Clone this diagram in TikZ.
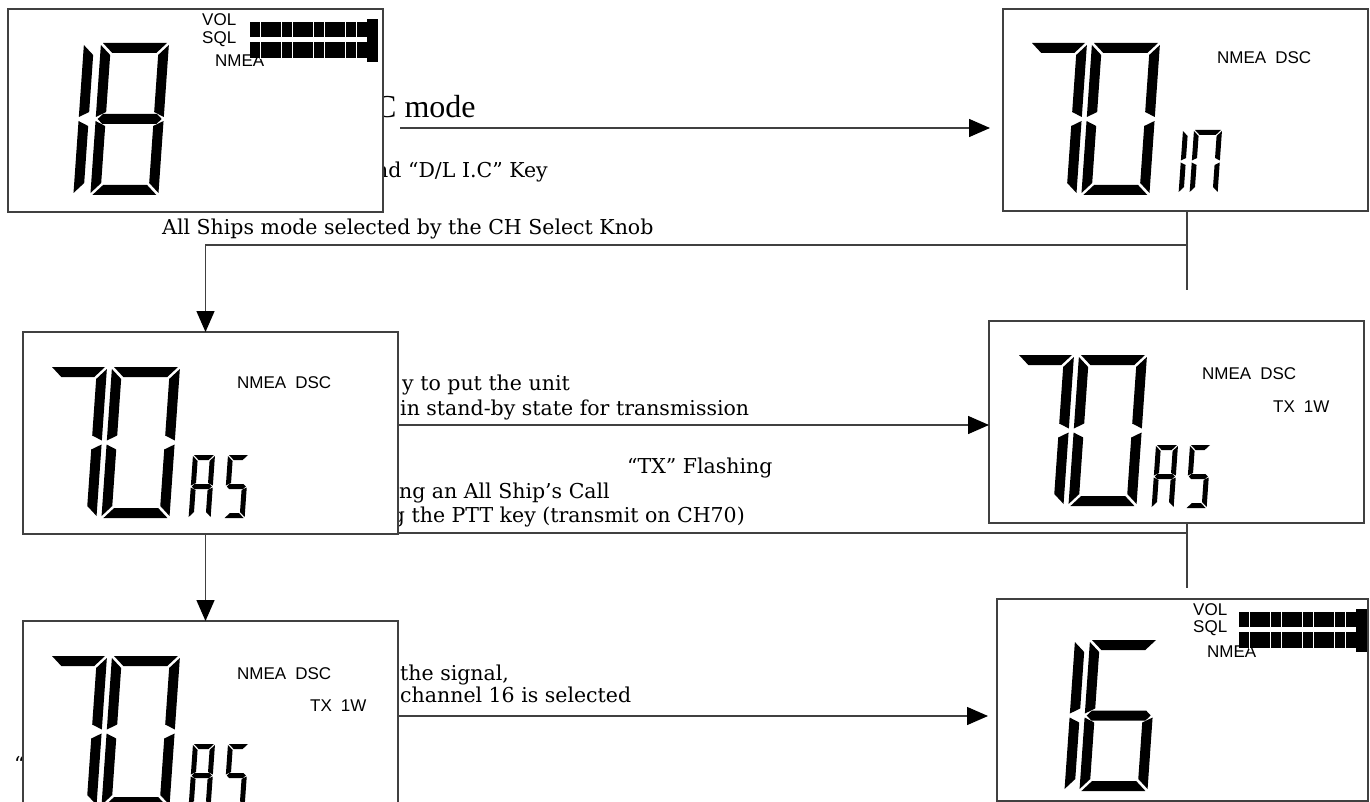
\documentclass[tikz,border=0pt]{standalone}
\usepackage{fontspec}
\setmainfont{DejaVu Serif}
\newfontfamily\lcdfont{Liberation Sans}
\newfontfamily\timesfont{Liberation Serif}
\usetikzlibrary{arrows.meta}

\def\lcdsega{\fill (\dG,0) -- (\dW-\dG,0) -- (\dW-\dG-\dT,\dT) -- (\dG+\dT,\dT) -- cycle;}
\def\lcdsegd{\fill (\dG,\dH) -- (\dW-\dG,\dH) -- (\dW-\dG-\dT,\dH-\dT) -- (\dG+\dT,\dH-\dT) -- cycle;}
\def\lcdsegg{\fill (\dG,\dH/2) -- (\dG+\dT/2,\dH/2-\dT/2) -- (\dW-\dG-\dT/2,\dH/2-\dT/2) -- (\dW-\dG,\dH/2) -- (\dW-\dG-\dT/2,\dH/2+\dT/2) -- (\dG+\dT/2,\dH/2+\dT/2) -- cycle;}
\def\lcdsegf{\fill (0,\dG) -- (\dT,\dG+\dT) -- (\dT,\dH/2-\dG-\dT/2) -- (0,\dH/2-\dG) -- cycle;}
\def\lcdsege{\fill (0,\dH/2+\dG) -- (\dT,\dH/2+\dG+\dT/2) -- (\dT,\dH-\dG-\dT) -- (0,\dH-\dG) -- cycle;}
\def\lcdsegb{\fill (\dW,\dG) -- (\dW-\dT,\dG+\dT) -- (\dW-\dT,\dH/2-\dG-\dT/2) -- (\dW,\dH/2-\dG) -- cycle;}
\def\lcdsegc{\fill (\dW,\dH/2+\dG) -- (\dW-\dT,\dH/2+\dG+\dT/2) -- (\dW-\dT,\dH-\dG-\dT) -- (\dW,\dH-\dG) -- cycle;}

% x, y (top-left), width, height, thickness, gap, segments
\newcommand{\lcddigit}[7]{%
  \begin{scope}[shift={(#1,#2)},xslant=0.07]
    \def\dW{#3}\def\dH{#4}\def\dT{#5}\def\dG{#6}%
    \foreach \s in {#7}{\csname lcdseg\s\endcsname}
  \end{scope}}

\newcommand{\lcdbars}{%
  \fill (242,13) rectangle (359,28);
  \fill (242,33) rectangle (359,49);
  \fill (359,10) rectangle (370,53);
  \foreach \xx in {252,273,284,305,316,337,348}{\draw[white,line width=0.7pt] (\xx,12) -- (\xx,50);}}

\tikzset{
  lcdbox/.style={draw=black!75, line width=1.4pt, fill=white, inner sep=0pt, outer sep=0pt, anchor=north west},
  conn/.style={draw=black!75, line width=1.4pt},
  arr/.style={conn, -{Triangle[length=21pt,width=18pt,color=black]}},
  lbl/.style={font=\lcdfont\fontsize{17}{17}\selectfont, inner sep=0pt, anchor=west},
  note/.style={font=\fontsize{20.5}{24}\selectfont, inner sep=0pt},
  bignote/.style={font=\timesfont\fontsize{32}{36}\selectfont, inner sep=0pt},
}

\begin{document}
\begin{tikzpicture}[x=1pt,y=-1pt]
\clip (0,0) rectangle (1370,802);
\fill[white] (0,0) rectangle (1370,802);

% texts (partly hidden by the displays)
\node[bignote, anchor=base west] (t1) at (375,118) {C mode};
\node[note, anchor=base east] (t2) at (548,178) {nd “D/L I.C” Key};
\node[note, anchor=base west] (t3) at (162,235) {All Ships mode selected by the CH Select Knob};
\node[note, anchor=base east] (t4) at (570,390) {y to put the unit};
\node[note, anchor=base west] (t5) at (400,415) {in stand-by state for transmission};
\node[note, anchor=base west] (t6) at (627,473) {“TX” Flashing};
\node[note, anchor=base east] (t7) at (610,498) {ng an All Ship's Call};
\node[note, anchor=base east] (t8) at (745,522) {g the PTT key (transmit on CH70)};
\node[note, anchor=base west] (t9) at (400,680) {the signal,};
\node[note, anchor=base west] (t10) at (400,702) {channel 16 is selected};
\node[note, anchor=base west] (t11) at (14,771) {“T};

% displays
\node[lcdbox, minimum width=375pt, minimum height=203pt] (b1) at (8,9) {};
\node[lcdbox, minimum width=365pt, minimum height=202pt] (b2) at (1003,9) {};
\node[lcdbox, minimum width=375pt, minimum height=202pt] (b3) at (23,332) {};
\node[lcdbox, minimum width=375pt, minimum height=202pt] (b4) at (989,321) {};
\node[lcdbox, minimum width=375pt, minimum height=202pt] (b5) at (23,621) {};
\node[lcdbox, minimum width=371pt, minimum height=202pt] (b6) at (997,599) {};

% display 1: 18 with VOL/SQL
\begin{scope}[shift={(8,9)}]
  \node[lbl] (l1a) at (194,11) {VOL};
  \node[lbl] (l1b) at (194,30) {SQL};
  \node[lbl] (l1c) at (207,52) {NMEA};
  \lcdbars
  \lcddigit{76}{34}{20}{152}{10}{2}{f,e}
  \lcddigit{93}{34}{68}{152}{10}{2}{a,b,c,d,e,f,g}
\end{scope}

% display 2: 70 IN
\begin{scope}[shift={(1003,9)}]
  \node[lbl] (l2a) at (214,49) {NMEA\hspace{9pt}DSC};
  \lcddigit{27}{34}{57}{152}{10}{2}{a,b,c}
  \lcddigit{89}{34}{68}{152}{10}{2}{a,b,c,d,e,f}
  \lcddigit{180}{121}{10}{63}{5}{1}{f,e}
  \lcddigit{191}{121}{28}{63}{5}{1}{a,b,c,e,f}
\end{scope}

% display 3: 70 AS
\begin{scope}[shift={(23,332)}]
  \node[lbl] (l3a) at (214,51) {NMEA\hspace{9pt}DSC};
  \lcddigit{27}{35}{57}{151}{10}{2}{a,b,c}
  \lcddigit{89}{35}{68}{151}{10}{2}{a,b,c,d,e,f}
  \lcddigit{170}{123}{22}{63}{5}{1}{a,b,c,e,f,g}
  \lcddigit{205}{123}{21}{63}{5}{1}{a,f,g,c,d}
\end{scope}

% display 4: 70 AS, TX 1W
\begin{scope}[shift={(989,321)}]
  \node[lbl] (l4a) at (213,53) {NMEA\hspace{9pt}DSC};
  \node[lbl] (l4b) at (284,86) {TX\hspace{9pt}1W};
  \lcddigit{28}{34}{57}{151}{10}{2}{a,b,c}
  \lcddigit{90}{34}{68}{151}{10}{2}{a,b,c,d,e,f}
  \lcddigit{167}{124}{22}{63}{5}{1}{a,b,c,e,f,g}
  \lcddigit{201}{124}{21}{63}{5}{1}{a,f,g,c,d}
\end{scope}

% display 5: 70 AS, TX 1W
\begin{scope}[shift={(23,621)}]
  \node[lbl] (l5a) at (214,53) {NMEA\hspace{9pt}DSC};
  \node[lbl] (l5b) at (287,85) {TX\hspace{9pt}1W};
  \lcddigit{27}{35}{57}{151}{10}{2}{a,b,c}
  \lcddigit{89}{35}{68}{151}{10}{2}{a,b,c,d,e,f}
  \lcddigit{170}{123}{22}{63}{5}{1}{a,b,c,e,f,g}
  \lcddigit{205}{123}{21}{63}{5}{1}{a,f,g,c,d}
\end{scope}

% display 6: 16 with VOL/SQL
\begin{scope}[shift={(997,599)}]
  \node[lbl] (l6a) at (196,11) {VOL};
  \node[lbl] (l6b) at (196,29) {SQL};
  \node[lbl] (l6c) at (210,53) {NMEA};
  \lcdbars
  \lcddigit{78}{41}{20}{151}{10}{2}{f,e}
  \lcddigit{93}{41}{68}{151}{10}{2}{a,c,d,e,f,g}
\end{scope}

% connectors
\coordinate (s1) at (400,128);
\coordinate (j1) at (1187,245);
\coordinate (e1) at (1187,290);
\coordinate (y2) at (0,425);
\coordinate (j2) at (1187,533);
\coordinate (e2) at (1187,588);
\coordinate (y3) at (0,716);

\draw[arr, shorten >=13pt] (s1) -- (s1 -| b2.west);
\draw[conn] (j1 |- b2.south) -- (e1);
\draw[arr] (j1) -| ([xshift=-5pt]b3.north);
\draw[arr] (b3.east |- y2) -- (b4.west |- y2);
\draw[conn] (j2 |- b4.south) -- (e2);
\draw[conn] (j2) -- (j2 -| b3.east);
\draw[arr] ([xshift=-5pt]b3.south) -- ([xshift=-5pt]b5.north);
\draw[arr, shorten >=9pt] (b5.east |- y3) -- (b6.west |- y3);
\end{tikzpicture}
\end{document}
